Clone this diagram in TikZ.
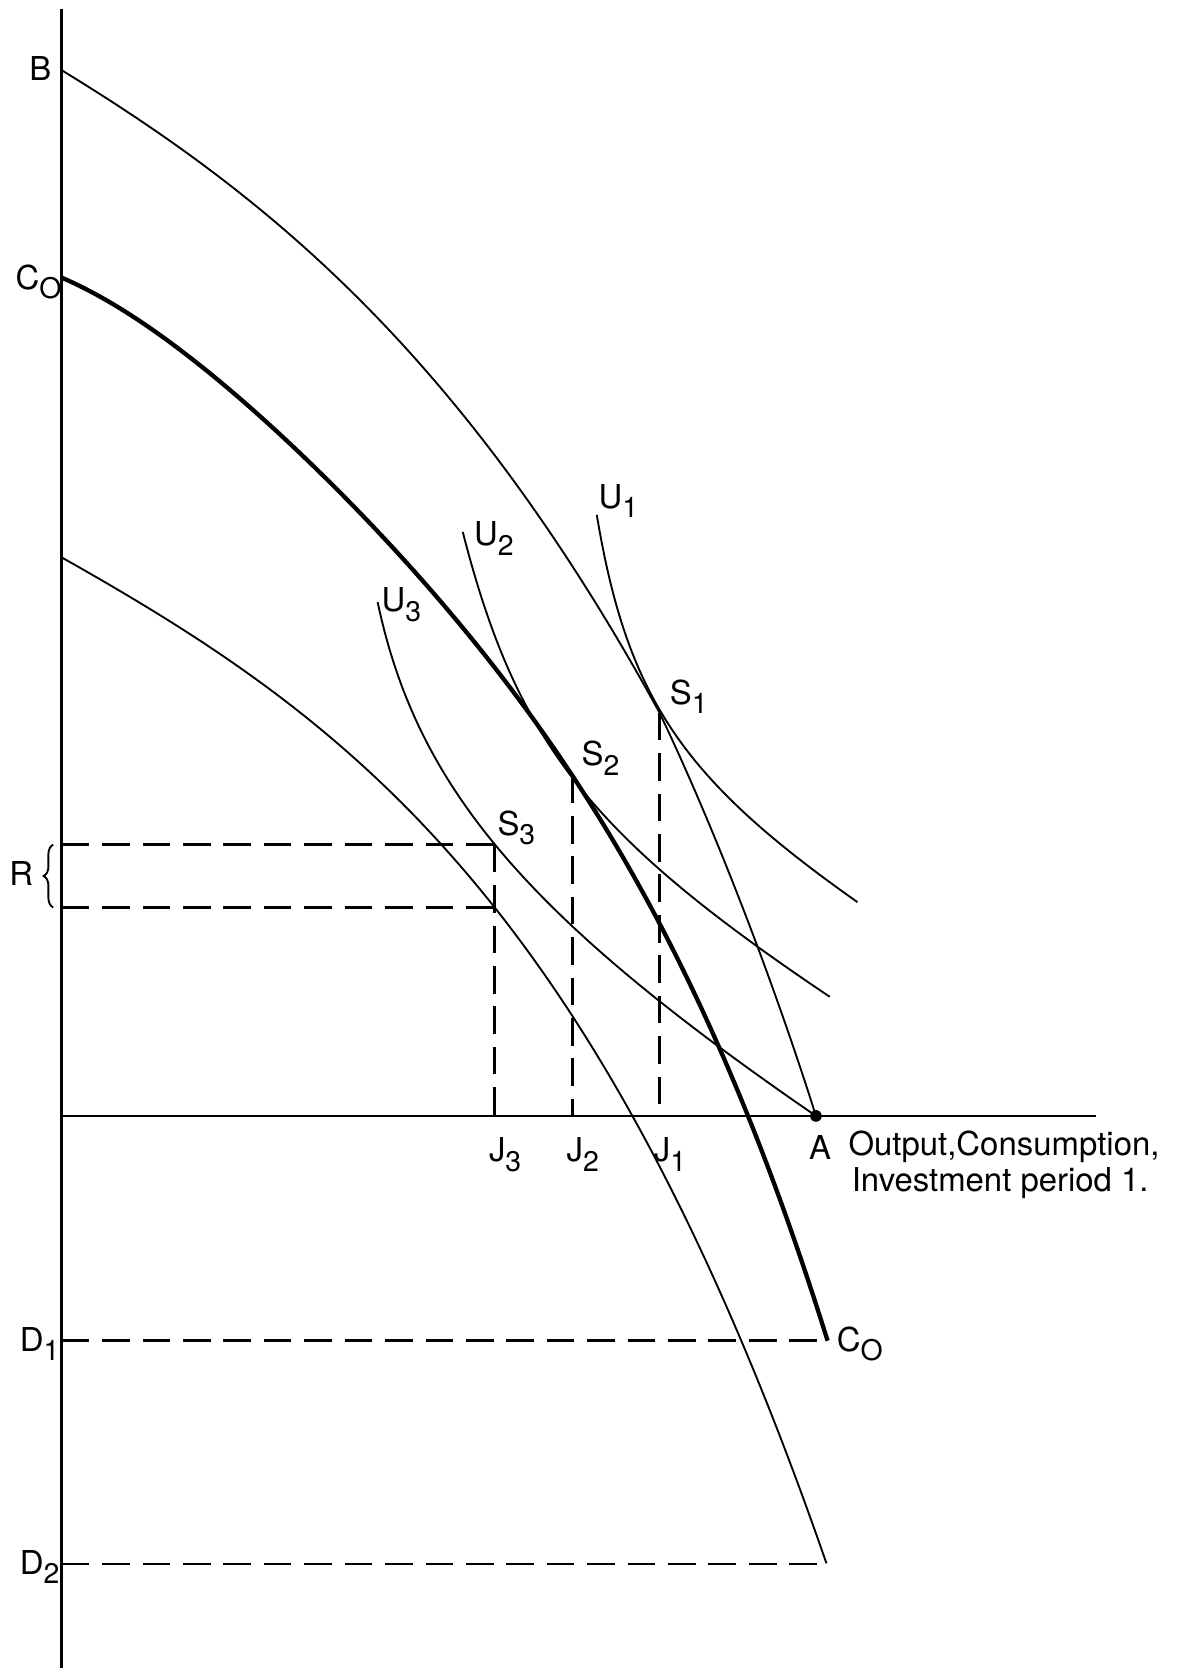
\documentclass[tikz,border=0pt]{standalone}
\usepackage{fontspec}
\setmainfont{TeX Gyre Heros}
\usetikzlibrary{positioning,decorations.pathreplacing}
\newcommand{\sub}[1]{\raisebox{-0.55ex}{\fontsize{7.6}{8}\selectfont #1}}
\tikzset{
  axisline/.style={line width=0.65pt},
  thincurve/.style={line width=0.5pt},
  thickcurve/.style={line width=1.15pt},
  guideline/.style={line width=0.65pt, dash pattern=on 2.6mm off 1.2mm},
  lbl/.style={font=\fontsize{8.8}{9.6}\selectfont, inner sep=0pt, anchor=base west},
}

\begin{document}
\begin{tikzpicture}[x=0.1mm, y=-0.1mm]
  \useasboundingbox (0,0) rectangle (1117,1568);
  % axes
  \coordinate (ytop) at (58,8);
  \coordinate (ybot) at (58,1568);
  \coordinate (O) at (58,1049);
  \coordinate (xend) at (1030,1049);
  \draw[axisline] (ytop) -- (ybot);
  \draw[axisline] (O) -- (xend);
  % key points
  \coordinate (B) at (58,66);
  \coordinate (A) at (767,1049);
  \coordinate (S1) at (620,670);
  \coordinate (S2) at (538,729);
  \coordinate (S3) at (465,794);
  \coordinate (R3) at (465,853);
  \coordinate (J1) at (620,1049);
  \coordinate (J2) at (538,1049);
  \coordinate (J3) at (465,1049);
  \coordinate (R1) at (58,794);
  \coordinate (R2) at (58,853);
  \coordinate (D1) at (58,1260);
  \coordinate (D2) at (58,1470);
  \coordinate (C1) at (778,1260);
  \coordinate (E2) at (777,1470);
  % frontiers (x in hundreds from the axis)
  \draw[thincurve] plot[domain=0:5.62, samples=80, smooth]
    ({58+100*\x},{66+61.19*\x+3.083*\x*\x+0.917*\x*\x*\x})
    .. controls (686.5,809.6) and (741.4,967.2) .. (A);
  \draw[thickcurve] plot[domain=0:7.2, samples=120, smooth]
    ({58+100*\x},{261+42.93*\x+19.52*\x*\x-3.37*\x*\x*\x+0.3484*\x*\x*\x*\x});
  \draw[thincurve] plot[domain=0:7.19, samples=120, smooth]
    ({58+100*\x},{524+56.34*\x+1.757*\x*\x+0.8345*\x*\x*\x+0.05233*\x*\x*\x*\x});
  % indifference curves
  \coordinate (u1top) at (561,484);
  \coordinate (u1end) at (806,848);
  \coordinate (u2top) at (435,500);
  \coordinate (u2end) at (780,937);
  \coordinate (u3top) at (355,566);
  \draw[thincurve] (u1top) .. controls (590,658) and (643,733) .. (u1end);
  \draw[thincurve] (u2top) .. controls (486,699) and (555,786) .. (u2end);
  \draw[thincurve] (u3top) .. controls (392,741) and (495,862) .. (A);
  % dashed guides
  \foreach \s/\j in {S1/J1,S2/J2,S3/J3}
    \draw[guideline] (\s) -- (\j);
  \foreach \a/\b in {R1/S3,R2/R3,D1/C1,D2/E2}
    \draw[guideline] (\a) -- (\b);
  % brace for R
  \coordinate (brlo) at (50,853);
  \coordinate (brhi) at (50,794);
  \draw[thincurve, decorate, decoration={brace, amplitude=0.9mm}] (brlo) -- (brhi);
  \node[circle, fill, inner sep=0pt, minimum size=1.1mm] (Adot) at (A) {};
  % labels
  \node[lbl] (lB) at (27,76) {B};
  \node[lbl] (lC0) at (14,272) {C\sub{O}};
  \node[lbl] (lR) at (8,832) {R};
  \node[lbl] (lD1) at (18,1270) {D\sub{1}};
  \node[lbl] (lD2) at (18,1480) {D\sub{2}};
  \node[lbl] (lU1) at (562,478) {U\sub{1}};
  \node[lbl] (lU2) at (445,513) {U\sub{2}};
  \node[lbl] (lU3) at (358,575) {U\sub{3}};
  \node[lbl] (lS1) at (629,662) {S\sub{1}};
  \node[lbl] (lS2) at (546,720) {S\sub{2}};
  \node[lbl] (lS3) at (467,785) {S\sub{3}};
  \node[lbl] (lJ3) at (459,1092) {J\sub{3}};
  \node[lbl] (lJ2) at (532,1092) {J\sub{2}};
  \node[lbl] (lJ1) at (614,1092) {J\sub{1}};
  \node[lbl] (lA) at (760,1090) {A};
  \node[lbl] (out1) at (797,1086) {Output,Consumption,};
  \node[lbl] (out2) at (800,1120) {Investment period 1.};
  \node[lbl] (lC1) at (786,1270) {C\sub{O}};
\end{tikzpicture}
\end{document}
